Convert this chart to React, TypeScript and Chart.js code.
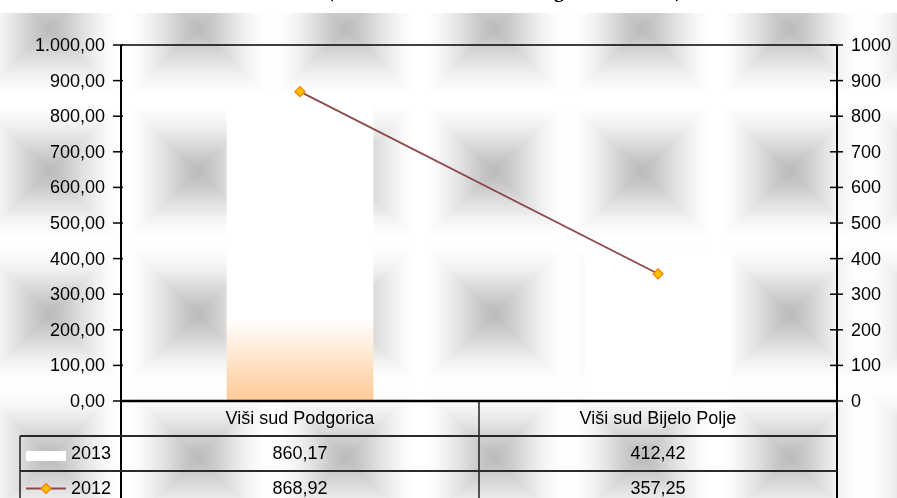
import React, { useEffect, useRef } from 'react';
import { Chart, registerables } from 'chart.js';

Chart.register(...registerables);

const categories = ['Viši sud Podgorica', 'Viši sud Bijelo Polje'];
const seriesNames = ['2013', '2012'];
const series2013 = [860.17, 412.42];
const series2012 = [868.92, 357.25];
const tickValues = [0, 100, 200, 300, 400, 500, 600, 700, 800, 900, 1000];
const leftTickLabels = ['0,00', '100,00', '200,00', '300,00', '400,00', '500,00', '600,00', '700,00', '800,00', '900,00', '1.000,00'];
const rightTickLabels = ['0', '100', '200', '300', '400', '500', '600', '700', '800', '900', '1000'];
const titleText = '(Viši sudovi - 2013. i 2012. godina u EUR)';

const FONT = '"Liberation Sans", Arial, Helvetica, sans-serif';
const LINE_COLOR = '#8C4A4A';
const MARKER_FILL = '#FFC000';
const MARKER_BORDER = '#FF7A00';

const fmt = (v: number) => v.toFixed(2).replace('.', ',');

function makeTile(w: number, h: number): HTMLCanvasElement {
  const c = document.createElement('canvas');
  c.width = w;
  c.height = h;
  const g = c.getContext('2d')!;
  const img = g.createImageData(w, h);
  for (let y = 0; y < h; y++) {
    for (let x = 0; x < w; x++) {
      const dx = Math.abs(x + 0.5 - w / 2) / (w / 2);
      const dy = Math.abs(y + 0.5 - h / 2) / (h / 2);
      const t = Math.min(1, Math.max(dx, dy));
      const s = t * t * (3 - 2 * t);
      const v = Math.round(188 + 67 * Math.pow(s, 0.7));
      const i = (y * w + x) * 4;
      img.data[i] = v;
      img.data[i + 1] = v;
      img.data[i + 2] = v;
      img.data[i + 3] = 255;
    }
  }
  g.putImageData(img, 0, 0);
  return c;
}

function line(ctx: CanvasRenderingContext2D, x1: number, y1: number, x2: number, y2: number) {
  ctx.beginPath();
  ctx.moveTo(x1, y1);
  ctx.lineTo(x2, y2);
  ctx.stroke();
}

function diamond(ctx: CanvasRenderingContext2D, x: number, y: number, r: number) {
  ctx.beginPath();
  ctx.moveTo(x, y - r);
  ctx.lineTo(x + r, y);
  ctx.lineTo(x, y + r);
  ctx.lineTo(x - r, y);
  ctx.closePath();
  ctx.fillStyle = MARKER_FILL;
  ctx.fill();
  ctx.strokeStyle = MARKER_BORDER;
  ctx.lineWidth = 1.2;
  ctx.stroke();
}

const backgroundPlugin = {
  id: 'texturedBackground',
  beforeDraw(chart: any) {
    const ctx: CanvasRenderingContext2D = chart.ctx;
    const W = chart.width;
    const H = chart.height;
    ctx.save();
    ctx.fillStyle = '#ffffff';
    ctx.fillRect(0, 0, W, H);
    const tile = makeTile(148, 143);
    const pat = ctx.createPattern(tile, 'repeat')!;
    pat.setTransform(new DOMMatrix([1, 0, 0, 1, -24, -43]));
    ctx.fillStyle = pat;
    ctx.fillRect(0, 13, W, H - 13);
    ctx.fillStyle = '#000';
    ctx.font = 'bold 20px "Liberation Serif", "Times New Roman", serif';
    ctx.textAlign = 'left';
    ctx.textBaseline = 'alphabetic';
    ctx.fillText(titleText, 327, -3);
    ctx.restore();
  },
};

const axesTablePlugin = {
  id: 'axesTable',
  afterDraw(chart: any) {
    const ctx: CanvasRenderingContext2D = chart.ctx;
    const a = chart.chartArea;
    const ys = chart.scales.y;
    const ys1 = chart.scales.y1;
    const xs = chart.scales.x;
    const H = chart.height;
    const rowH = 35;
    const r1 = a.bottom + rowH;
    const r2 = r1 + rowH;
    const legendLeft = 20;
    const mid = (a.left + a.right) / 2;

    ctx.save();
    ctx.strokeStyle = '#000';

    ctx.lineWidth = 1.5;
    line(ctx, a.left, a.top, a.right, a.top);

    ctx.lineWidth = 2;
    line(ctx, a.left, a.top, a.left, H);
    line(ctx, a.right, a.top, a.right, H);
    ctx.lineWidth = 1.3;
    line(ctx, mid, a.bottom, mid, H);
    line(ctx, legendLeft, r1, legendLeft, H);

    ctx.strokeStyle = '#2a2a2a';
    ctx.lineWidth = 2;
    line(ctx, legendLeft, r1, a.right, r1);
    line(ctx, legendLeft, r2, a.right, r2);

    ctx.strokeStyle = '#000';
    ctx.lineWidth = 2.5;
    line(ctx, a.left, a.bottom, a.right, a.bottom);

    ctx.lineWidth = 1.5;
    ctx.fillStyle = '#000';
    ctx.font = '18px ' + FONT;
    ctx.textBaseline = 'middle';
    tickValues.forEach((v, i) => {
      const py = ys.getPixelForValue(v);
      line(ctx, a.left - 8, py, a.left + 2, py);
      ctx.textAlign = 'right';
      ctx.fillText(leftTickLabels[i], a.left - 16, py + 1);
      const py1 = ys1.getPixelForValue(v);
      line(ctx, a.right - 7, py1, a.right + 6, py1);
      ctx.textAlign = 'left';
      ctx.fillText(rightTickLabels[i], a.right + 14, py1 + 1);
    });

    ctx.textAlign = 'center';
    categories.forEach((c, i) => {
      const px = xs.getPixelForValue(i);
      ctx.fillText(c, px, a.bottom + rowH / 2 + 1);
      ctx.fillText(fmt(series2013[i]), px, r1 + rowH / 2 + 1);
      ctx.fillText(fmt(series2012[i]), px, r2 + rowH / 2 + 1);
    });

    ctx.textAlign = 'left';
    ctx.fillText(seriesNames[0], 71, r1 + rowH / 2 + 1);
    ctx.fillText(seriesNames[1], 71, r2 + rowH / 2 + 1);
    ctx.fillStyle = '#ffffff';
    ctx.fillRect(26, r1 + 15, 40, 10);
    ctx.strokeStyle = LINE_COLOR;
    ctx.lineWidth = 1.8;
    line(ctx, 26, r2 + rowH / 2, 66, r2 + rowH / 2);
    diamond(ctx, 46, r2 + rowH / 2, 5);

    ctx.restore();
  },
};

export default function App() {
  const canvasRef = useRef<HTMLCanvasElement | null>(null);

  useEffect(() => {
    document.body.style.margin = '0';
    const canvas = canvasRef.current;
    if (!canvas) return;
    const chart = new Chart(canvas, {
      type: 'bar',
      data: {
        labels: categories,
        datasets: [
          {
            type: 'line',
            label: seriesNames[1],
            data: series2012,
            yAxisID: 'y1',
            borderColor: LINE_COLOR,
            borderWidth: 1.8,
            tension: 0,
            pointStyle: 'rectRot',
            pointRadius: 5,
            pointBackgroundColor: MARKER_FILL,
            pointBorderColor: MARKER_BORDER,
            pointBorderWidth: 1.2,
            order: 1,
          } as any,
          {
            type: 'bar',
            label: seriesNames[0],
            data: series2013,
            yAxisID: 'y',
            borderWidth: 0,
            barPercentage: 0.41,
            categoryPercentage: 1,
            order: 2,
            backgroundColor: (c: any) => {
              const ch = c.chart;
              if (!ch.chartArea || c.dataIndex !== 0) return '#ffffff';
              const ys = ch.scales.y;
              const g = ch.ctx.createLinearGradient(0, ys.getPixelForValue(230), 0, ys.getPixelForValue(0));
              g.addColorStop(0, '#ffffff');
              g.addColorStop(1, '#FFC995');
              return g;
            },
          } as any,
        ],
      },
      options: {
        responsive: false,
        animation: false,
        events: [],
        layout: { padding: { top: 45, bottom: 97, left: 0, right: 0 } },
        plugins: {
          legend: { display: false },
          title: { display: false },
          tooltip: { enabled: false },
        },
        scales: {
          x: { display: false },
          y: {
            position: 'left',
            min: 0,
            max: 1000,
            ticks: { display: false, stepSize: 100 },
            grid: { display: false },
            border: { display: false },
            afterFit: (s: any) => { s.width = 121; },
          },
          y1: {
            position: 'right',
            min: 0,
            max: 1000,
            ticks: { display: false, stepSize: 100 },
            grid: { display: false },
            border: { display: false },
            afterFit: (s: any) => { s.width = 60; },
          },
        },
      },
      plugins: [backgroundPlugin, axesTablePlugin],
    });
    return () => chart.destroy();
  }, []);

  return (
    <div style={{ width: 897, height: 498 }}>
      <canvas ref={canvasRef} width={897} height={498} style={{ display: 'block' }} />
    </div>
  );
}
